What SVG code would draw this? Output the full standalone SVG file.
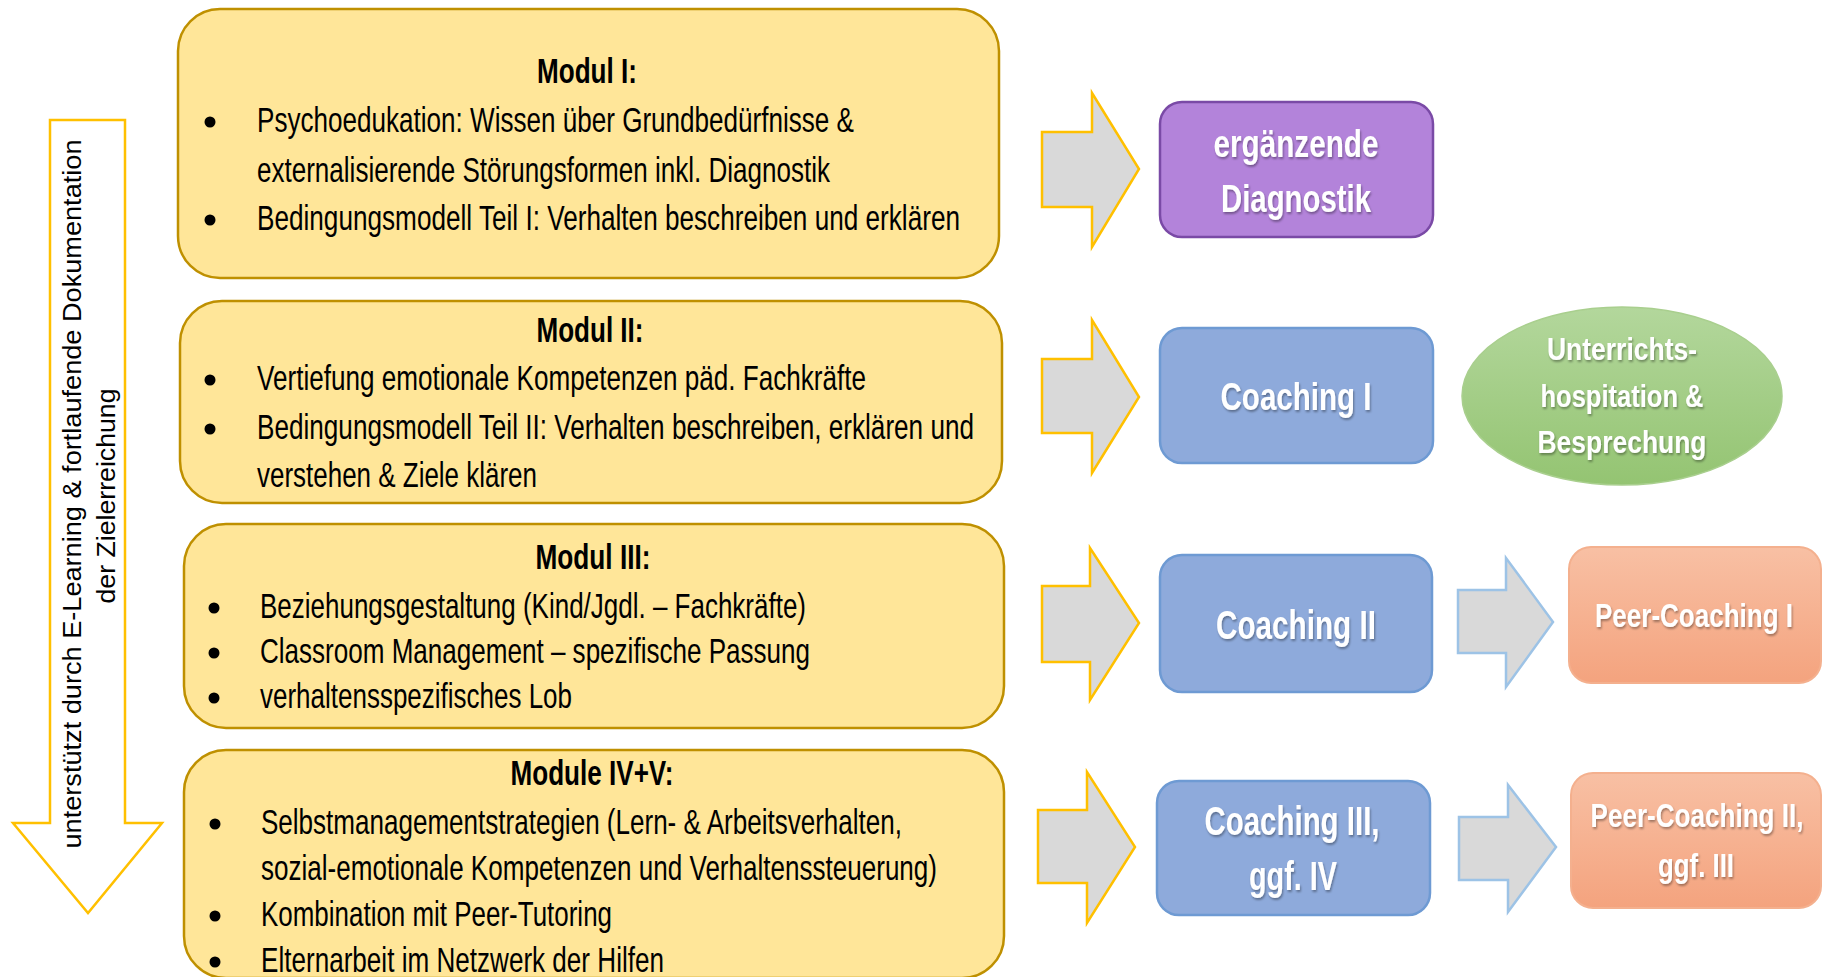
<svg xmlns="http://www.w3.org/2000/svg" width="1822" height="977" viewBox="0 0 1822 977">
<defs>
<linearGradient id="gPeer" x1="0" y1="0" x2="0" y2="1"><stop offset="0" stop-color="#F8C0A4"/><stop offset="1" stop-color="#F4A37E"/></linearGradient>
<linearGradient id="gGreen" x1="0" y1="0" x2="0" y2="1"><stop offset="0" stop-color="#B3D79C"/><stop offset="1" stop-color="#94C472"/></linearGradient>
<filter id="ts" x="-4%" y="-10%" width="108%" height="130%"><feDropShadow dx="1" dy="2" stdDeviation="1.2" flood-color="#000" flood-opacity="0.35"/></filter>
<style>
.mod{fill:#FFE699;stroke:#BF9000;stroke-width:2.5}
.t{font-family:"Liberation Sans Narrow","Liberation Sans",Arial,sans-serif;font-size:35px;fill:#000}
.tb{font-family:"Liberation Sans Narrow","Liberation Sans",Arial,sans-serif;font-size:35px;font-weight:bold;fill:#000;text-anchor:middle}
.w{font-family:"Liberation Sans Narrow","Liberation Sans",Arial,sans-serif;font-weight:bold;fill:#fff;text-anchor:middle;filter:url(#ts)}
.side{font-family:"Liberation Sans",Arial,sans-serif;font-size:26px;fill:#000;text-anchor:middle}
.ya{fill:#D9D9D9;stroke:#FFC000;stroke-width:2.5;stroke-linejoin:miter}
.ba{fill:#D9D9D9;stroke:#9DC3E6;stroke-width:2.5}
.dot{fill:#000}
</style>
</defs>
<rect width="1822" height="977" fill="#fff"/>

<g id="side-arrow">
<polygon points="50,120 125,120 125,823 162,823 88,913 13,823 50,823" fill="#fff" stroke="#FFC000" stroke-width="2.5"/>
<text class="side" transform="translate(81,494) rotate(-90)" textLength="709" lengthAdjust="spacingAndGlyphs">unterstützt durch E-Learning &amp; fortlaufende Dokumentation</text>
<text class="side" transform="translate(115,496) rotate(-90)" textLength="215" lengthAdjust="spacingAndGlyphs">der Zielerreichung</text>
</g>

<g id="modul1">
<rect class="mod" x="178" y="9" width="821" height="269" rx="42" ry="42"/>
<text class="tb" x="587" y="83" textLength="100" lengthAdjust="spacingAndGlyphs">Modul I:</text>
<circle class="dot" cx="210" cy="122" r="5.5"/>
<text class="t" x="257" y="132" textLength="597" lengthAdjust="spacingAndGlyphs">Psychoedukation: Wissen über Grundbedürfnisse &amp;</text>
<text class="t" x="257" y="182" textLength="573" lengthAdjust="spacingAndGlyphs">externalisierende Störungsformen inkl. Diagnostik</text>
<circle class="dot" cx="210" cy="220" r="5.5"/>
<text class="t" x="257" y="230" textLength="703" lengthAdjust="spacingAndGlyphs">Bedingungsmodell Teil I: Verhalten beschreiben und erklären</text>
</g>

<g id="modul2">
<rect class="mod" x="180" y="301" width="822" height="202" rx="42" ry="42"/>
<text class="tb" x="590" y="342" textLength="107" lengthAdjust="spacingAndGlyphs">Modul II:</text>
<circle class="dot" cx="210" cy="380" r="5.5"/>
<text class="t" x="257" y="390" textLength="609" lengthAdjust="spacingAndGlyphs">Vertiefung emotionale Kompetenzen päd. Fachkräfte</text>
<circle class="dot" cx="210" cy="429" r="5.5"/>
<text class="t" x="257" y="439" textLength="717" lengthAdjust="spacingAndGlyphs">Bedingungsmodell Teil II: Verhalten beschreiben, erklären und</text>
<text class="t" x="257" y="487" textLength="280" lengthAdjust="spacingAndGlyphs">verstehen &amp; Ziele klären</text>
</g>

<g id="modul3">
<rect class="mod" x="184" y="524" width="820" height="204" rx="42" ry="42"/>
<text class="tb" x="593" y="569" textLength="115" lengthAdjust="spacingAndGlyphs">Modul III:</text>
<circle class="dot" cx="214" cy="608" r="5.5"/>
<text class="t" x="260" y="618" textLength="546" lengthAdjust="spacingAndGlyphs">Beziehungsgestaltung (Kind/Jgdl. – Fachkräfte)</text>
<circle class="dot" cx="214" cy="653" r="5.5"/>
<text class="t" x="260" y="663" textLength="550" lengthAdjust="spacingAndGlyphs">Classroom Management – spezifische Passung</text>
<circle class="dot" cx="214" cy="698" r="5.5"/>
<text class="t" x="260" y="708" textLength="312" lengthAdjust="spacingAndGlyphs">verhaltensspezifisches Lob</text>
</g>

<g id="modul45">
<rect class="mod" x="184" y="750" width="820" height="228" rx="42" ry="42"/>
<text class="tb" x="592" y="785" textLength="163" lengthAdjust="spacingAndGlyphs">Module IV+V:</text>
<circle class="dot" cx="215" cy="824" r="5.5"/>
<text class="t" x="261" y="834" textLength="641" lengthAdjust="spacingAndGlyphs">Selbstmanagementstrategien (Lern- &amp; Arbeitsverhalten,</text>
<text class="t" x="261" y="880" textLength="676" lengthAdjust="spacingAndGlyphs">sozial-emotionale Kompetenzen und Verhaltenssteuerung)</text>
<circle class="dot" cx="215" cy="916" r="5.5"/>
<text class="t" x="261" y="926" textLength="351" lengthAdjust="spacingAndGlyphs">Kombination mit Peer-Tutoring</text>
<circle class="dot" cx="215" cy="962" r="5.5"/>
<text class="t" x="261" y="972" textLength="403" lengthAdjust="spacingAndGlyphs">Elternarbeit im Netzwerk der Hilfen</text>
</g>

<g id="connectors">
<polygon class="ya" points="1042,132 1092,132 1092,93 1139,169 1092,247 1092,207 1042,207"/>
<polygon class="ya" points="1042,359 1092,359 1092,320 1139,397 1092,473 1092,433 1042,433"/>
<polygon class="ya" points="1042,586 1090,586 1090,548 1139,623 1090,700 1090,662 1042,662"/>
<polygon class="ya" points="1038,810 1087,810 1087,772 1135,847 1087,923 1087,883 1038,883"/>
<polygon class="ba" points="1458,590 1506,590 1506,558 1553,622 1506,687 1506,653 1458,653"/>
<polygon class="ba" points="1459,817 1508,817 1508,785 1556,847 1508,912 1508,880 1459,880"/>
</g>

<g id="diagnostik">
<rect x="1160" y="102" width="273" height="135" rx="22" ry="22" fill="#B383DA" stroke="#7A4AA6" stroke-width="2.5"/>
<text class="w" x="1296" y="157" font-size="38" textLength="165" lengthAdjust="spacingAndGlyphs">ergänzende</text>
<text class="w" x="1296" y="212" font-size="38" textLength="150" lengthAdjust="spacingAndGlyphs">Diagnostik</text>
</g>

<g id="coaching1">
<rect x="1160" y="328" width="273" height="135" rx="22" ry="22" fill="#8EAADB" stroke="#6E9AD3" stroke-width="2.5"/>
<text class="w" x="1296" y="410" font-size="39" textLength="151" lengthAdjust="spacingAndGlyphs">Coaching I</text>
</g>

<g id="hospitation">
<ellipse cx="1622" cy="396" rx="160" ry="89" fill="url(#gGreen)" stroke="#A9CF8E" stroke-width="1.5"/>
<text class="w" x="1622" y="360" font-size="32" textLength="150" lengthAdjust="spacingAndGlyphs">Unterrichts-</text>
<text class="w" x="1622" y="407" font-size="32" textLength="163" lengthAdjust="spacingAndGlyphs">hospitation &amp;</text>
<text class="w" x="1622" y="453" font-size="32" textLength="169" lengthAdjust="spacingAndGlyphs">Besprechung</text>
</g>

<g id="coaching2">
<rect x="1160" y="555" width="272" height="137" rx="22" ry="22" fill="#8EAADB" stroke="#6E9AD3" stroke-width="2.5"/>
<text class="w" x="1296" y="639" font-size="40" textLength="160" lengthAdjust="spacingAndGlyphs">Coaching II</text>
</g>

<g id="peer1">
<rect x="1569" y="547" width="252" height="136" rx="22" ry="22" fill="url(#gPeer)" stroke="#F4B08E" stroke-width="2"/>
<text class="w" x="1694" y="627" font-size="34" textLength="198" lengthAdjust="spacingAndGlyphs">Peer-Coaching I</text>
</g>

<g id="coaching3">
<rect x="1157" y="781" width="273" height="134" rx="22" ry="22" fill="#8EAADB" stroke="#6E9AD3" stroke-width="2.5"/>
<text class="w" x="1292" y="835" font-size="40" textLength="175" lengthAdjust="spacingAndGlyphs">Coaching III,</text>
<text class="w" x="1293" y="890" font-size="40" textLength="88" lengthAdjust="spacingAndGlyphs">ggf. IV</text>
</g>

<g id="peer2">
<rect x="1571" y="773" width="250" height="135" rx="22" ry="22" fill="url(#gPeer)" stroke="#F4B08E" stroke-width="2"/>
<text class="w" x="1697" y="827" font-size="34" textLength="213" lengthAdjust="spacingAndGlyphs">Peer-Coaching II,</text>
<text class="w" x="1696" y="877" font-size="34" textLength="76" lengthAdjust="spacingAndGlyphs">ggf. III</text>
</g>
</svg>
